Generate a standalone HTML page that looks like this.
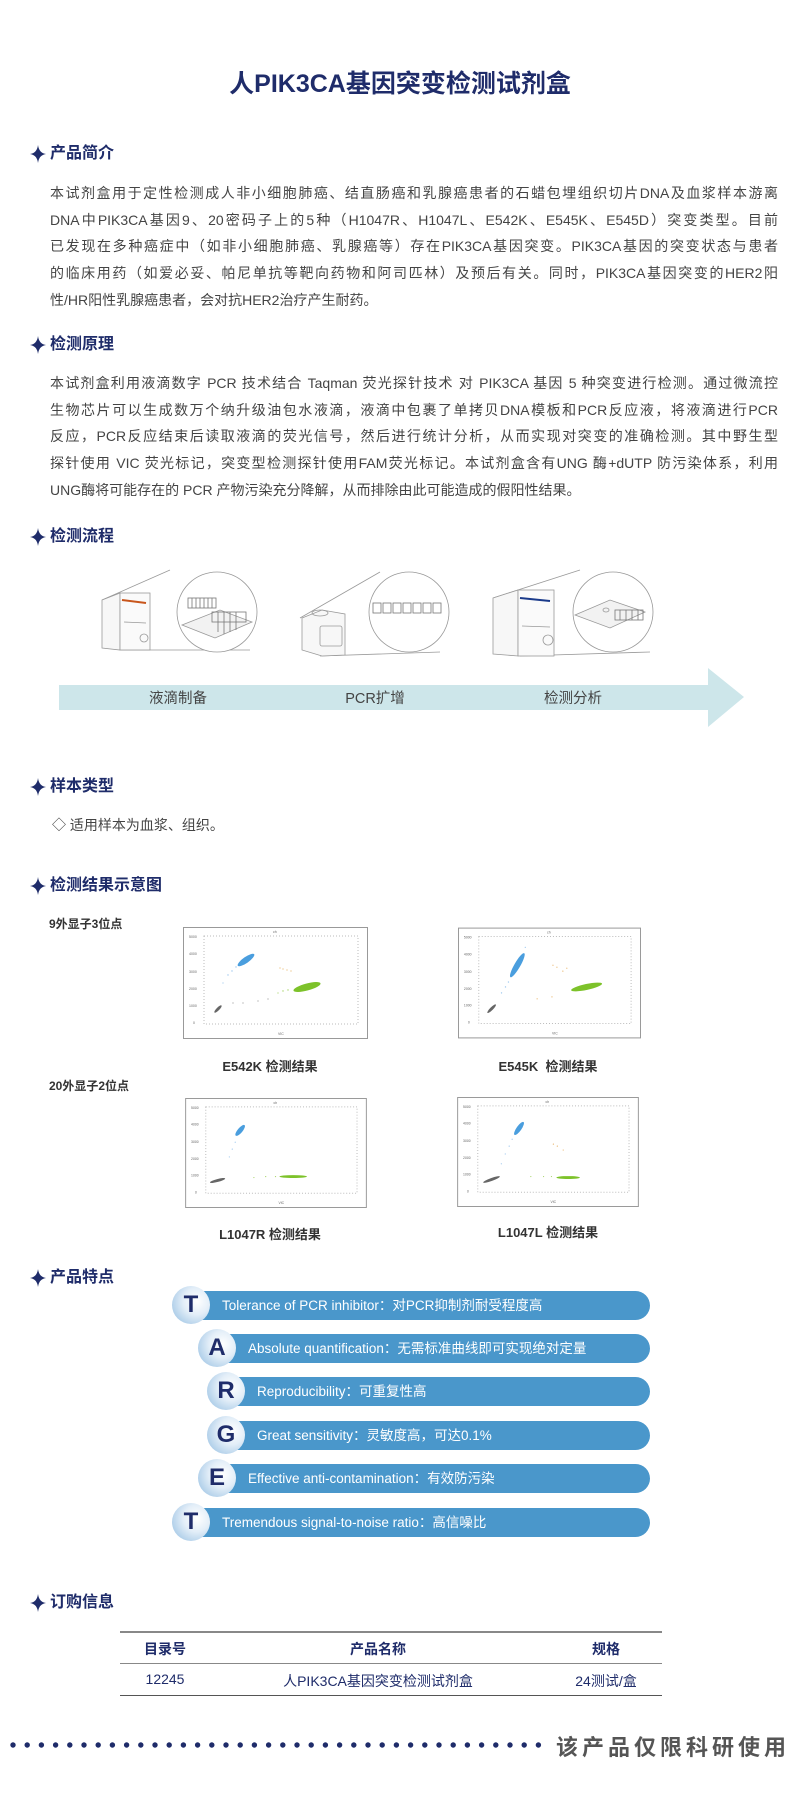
<!DOCTYPE html>
<html><head><meta charset="utf-8"><style>
*{margin:0;padding:0;box-sizing:border-box}
body{width:800px;height:1796px;background:#fff;font-family:"Liberation Sans","Noto Sans CJK SC",sans-serif;position:relative;overflow:hidden;color:#444}
.a{position:absolute}
.title{left:0;width:800px;text-align:center;top:64px;font-size:25px;font-weight:bold;color:#1f2c6a}
.h{left:30px;font-size:16px;font-weight:bold;color:#1f2c6a;height:22px;line-height:22px}
.h svg{position:absolute;left:0;top:2px}
.h span{position:absolute;left:20px;white-space:nowrap}
.p{left:50px;width:728px;font-size:14px;color:#444}
.p div{height:26.7px;line-height:26.7px;text-align:justify;text-align-last:justify;white-space:nowrap}
.p div.l{text-align-last:left}
.sub{font-size:12px;font-weight:bold;color:#333}
.cap{font-size:13px;font-weight:bold;color:#333;text-align:center;width:200px}
.bar{position:absolute;height:29px;background:#4a97cb;border-radius:0 15px 15px 0;right:150px;color:#fff;font-size:13.5px;line-height:29px}
.c{position:absolute;width:38px;height:38px;border-radius:50%;background:radial-gradient(circle at 65% 40%,#ffffff 0%,#e3eef8 40%,#8fbbe0 100%);color:#1f2c6a;font-weight:bold;font-size:24px;text-align:center;line-height:38px}
</style></head><body>
<div class="a title">人PIK3CA基因突变检测试剂盒</div>

<div class="a h" style="top:143px"><svg width="16" height="18" viewBox="0 0 16 18"><path d="M8 0 Q9 8 16 9 Q9 10 8 18 Q7 10 0 9 Q7 8 8 0Z" fill="#1f2c6a"/></svg><span>产品简介</span></div>
<div class="a p" style="top:180px">
<div>本试剂盒用于定性检测成人非小细胞肺癌、结直肠癌和乳腺癌患者的石蜡包埋组织切片DNA及血浆样本游离</div>
<div>DNA中PIK3CA基因9、20密码子上的5种（H1047R、H1047L、E542K、E545K、E545D）突变类型。目前</div>
<div>已发现在多种癌症中（如非小细胞肺癌、乳腺癌等）存在PIK3CA基因突变。PIK3CA基因的突变状态与患者</div>
<div>的临床用药（如爱必妥、帕尼单抗等靶向药物和阿司匹林）及预后有关。同时，PIK3CA基因突变的HER2阳</div>
<div class="l">性/HR阳性乳腺癌患者，会对抗HER2治疗产生耐药。</div>
</div>

<div class="a h" style="top:334px"><svg width="16" height="18" viewBox="0 0 16 18"><path d="M8 0 Q9 8 16 9 Q9 10 8 18 Q7 10 0 9 Q7 8 8 0Z" fill="#1f2c6a"/></svg><span>检测原理</span></div>
<div class="a p" style="top:370px">
<div>本试剂盒利用液滴数字 PCR 技术结合 Taqman 荧光探针技术 对 PIK3CA 基因 5 种突变进行检测。通过微流控</div>
<div>生物芯片可以生成数万个纳升级油包水液滴，液滴中包裹了单拷贝DNA模板和PCR反应液，将液滴进行PCR</div>
<div>反应，PCR反应结束后读取液滴的荧光信号，然后进行统计分析，从而实现对突变的准确检测。其中野生型</div>
<div>探针使用 VIC 荧光标记，突变型检测探针使用FAM荧光标记。本试剂盒含有UNG 酶+dUTP 防污染体系，利用</div>
<div class="l">UNG酶将可能存在的 PCR 产物污染充分降解，从而排除由此可能造成的假阳性结果。</div>
</div>

<div class="a h" style="top:526px"><svg width="16" height="18" viewBox="0 0 16 18"><path d="M8 0 Q9 8 16 9 Q9 10 8 18 Q7 10 0 9 Q7 8 8 0Z" fill="#1f2c6a"/></svg><span>检测流程</span></div>

<svg class="a" style="left:0;top:560px" width="800" height="180" viewBox="0 0 800 180" fill="none" stroke="#999" stroke-width="0.8">
 <path d="M102 40 L170 10 M120 90 L250 90"/>
 <path d="M102 40 L120 33 L120 90 L102 88 Z" fill="#f7f7f7"/>
 <rect x="120" y="33" width="30" height="57" fill="#fafafa"/>
 <line x1="122" y1="40" x2="146" y2="43" stroke="#c8561c" stroke-width="2"/>
 <line x1="124" y1="62" x2="146" y2="63"/>
 <circle cx="144" cy="78" r="4"/>
 <circle cx="217" cy="52" r="40" fill="#fff"/>
 <path d="M182 65 L220 50 L252 62 L215 78 Z" fill="#f2f2f2"/>
 <g stroke="#777"><rect x="188" y="38" width="28" height="10"/><line x1="192" y1="38" x2="192" y2="48"/><line x1="196" y1="38" x2="196" y2="48"/><line x1="200" y1="38" x2="200" y2="48"/><line x1="204" y1="38" x2="204" y2="48"/><line x1="208" y1="38" x2="208" y2="48"/><line x1="212" y1="38" x2="212" y2="48"/>
 <rect x="212" y="52" width="34" height="10"/><line x1="218" y1="52" x2="218" y2="72"/><line x1="224" y1="52" x2="224" y2="74"/><line x1="230" y1="52" x2="230" y2="72"/><line x1="236" y1="52" x2="236" y2="70"/></g>
 <path d="M300 58 L380 12 M320 96 L440 92"/>
 <path d="M302 58 L322 50 L345 54 L345 95 L322 96 L302 90 Z" fill="#f7f7f7"/>
 <rect x="320" y="66" width="22" height="20" rx="2"/>
 <ellipse cx="320" cy="53" rx="8" ry="3"/>
 <circle cx="409" cy="52" r="40" fill="#fff"/>
 <g stroke="#777"><rect x="373" y="43" width="8" height="10"/><rect x="383" y="43" width="8" height="10"/><rect x="393" y="43" width="8" height="10"/><rect x="403" y="43" width="8" height="10"/><rect x="413" y="43" width="8" height="10"/><rect x="423" y="43" width="8" height="10"/><rect x="433" y="43" width="8" height="10"/></g>
 <path d="M493 38 L580 10 M520 96 L650 92"/>
 <path d="M493 38 L518 30 L518 96 L493 94 Z" fill="#f7f7f7"/>
 <rect x="518" y="30" width="36" height="66" fill="#fafafa"/>
 <line x1="520" y1="38" x2="550" y2="41" stroke="#1a3a8a" stroke-width="2"/>
 <line x1="522" y1="66" x2="550" y2="67"/>
 <circle cx="548" cy="80" r="5"/>
 <circle cx="613" cy="52" r="40" fill="#fff"/>
 <path d="M575 55 L610 40 L645 52 L610 68 Z" fill="#f2f2f2"/>
 <ellipse cx="606" cy="50" rx="3" ry="2"/>
 <g stroke="#777"><rect x="615" y="50" width="28" height="10"/><line x1="620" y1="50" x2="620" y2="60"/><line x1="626" y1="50" x2="626" y2="60"/><line x1="632" y1="50" x2="632" y2="60"/><line x1="638" y1="50" x2="638" y2="60"/></g>
 <path d="M59 125 L708 125 L708 108 L744 137 L708 167 L708 150 L59 150 Z" fill="#cde6ea" stroke="none"/>
 <g fill="#444" stroke="none" font-family="Liberation Sans,Noto Sans CJK SC,sans-serif" font-size="14.5" text-anchor="middle"><text x="178" y="143">液滴制备</text><text x="375" y="143">PCR扩增</text><text x="573" y="143">检测分析</text></g>
</svg>

<div class="a h" style="top:776px"><svg width="16" height="18" viewBox="0 0 16 18"><path d="M8 0 Q9 8 16 9 Q9 10 8 18 Q7 10 0 9 Q7 8 8 0Z" fill="#1f2c6a"/></svg><span>样本类型</span></div>
<div class="a" style="left:52px;top:815px;font-size:14px;color:#444">◇ 适用样本为血浆、组织。</div>

<div class="a h" style="top:875px"><svg width="16" height="18" viewBox="0 0 16 18"><path d="M8 0 Q9 8 16 9 Q9 10 8 18 Q7 10 0 9 Q7 8 8 0Z" fill="#1f2c6a"/></svg><span>检测结果示意图</span></div>
<div class="a sub" style="left:49px;top:915px">9外显子3位点</div>
<div class="a sub" style="left:49px;top:1077px">20外显子2位点</div>

<svg class="a" style="left:183px;top:927px" width="185" height="112" viewBox="0 0 185 112">
 <rect x="0.5" y="0.5" width="184" height="111" fill="#fff" stroke="#999"/>
 <rect x="21" y="9" width="154" height="88" fill="none" stroke="#bbb" stroke-dasharray="1 2"/>
 <g font-size="3.5" fill="#666"><text x="6" y="11">5000</text><text x="6" y="28">4000</text><text x="6" y="46">3000</text><text x="6" y="63">2000</text><text x="6" y="80">1000</text><text x="10" y="97">0</text><text x="90" y="6">ch</text><text x="95" y="108">VIC</text></g>
 <g fill="#9cc7ee"><circle cx="45" cy="48" r=".7"/><circle cx="49" cy="44" r=".7"/><circle cx="53" cy="40" r=".7"/><circle cx="40" cy="56" r=".6"/></g>
 <ellipse cx="63" cy="33" rx="10" ry="3" transform="rotate(-35 63 33)" fill="#4a9ede"/>
 <g fill="#a8d46a"><circle cx="100" cy="64" r=".7"/><circle cx="105" cy="63" r=".7"/><circle cx="95" cy="66" r=".6"/></g>
 <ellipse cx="124" cy="60" rx="14" ry="3.5" transform="rotate(-15 124 60)" fill="#7dc22a"/>
 <ellipse cx="35" cy="82" rx="5" ry="1.5" transform="rotate(-45 35 82)" fill="#666"/>
 <g fill="#999"><circle cx="50" cy="76" r=".6"/><circle cx="60" cy="76" r=".6"/><circle cx="75" cy="74" r=".6"/><circle cx="85" cy="72" r=".6"/></g>
 <g fill="#e8b46a"><circle cx="100" cy="42" r=".6"/><circle cx="104" cy="43" r=".6"/><circle cx="97" cy="41" r=".6"/><circle cx="108" cy="44" r=".6"/></g>
</svg>
<svg class="a" style="left:458px;top:927px" width="183" height="112" viewBox="0 0 185 112">
 <rect x="0.5" y="0.5" width="184" height="111" fill="#fff" stroke="#999"/>
 <rect x="21" y="9" width="154" height="88" fill="none" stroke="#bbb" stroke-dasharray="1 2"/>
 <g font-size="3.5" fill="#666"><text x="6" y="11">5000</text><text x="6" y="28">4000</text><text x="6" y="46">3000</text><text x="6" y="63">2000</text><text x="6" y="80">1000</text><text x="10" y="97">0</text><text x="90" y="6">ch</text><text x="95" y="108">VIC</text></g>
 <g fill="#9cc7ee"><circle cx="44" cy="66" r=".7"/><circle cx="48" cy="60" r=".7"/><circle cx="51" cy="55" r=".7"/><circle cx="68" cy="20" r=".6"/></g>
 <ellipse cx="60" cy="38" rx="14" ry="3" transform="rotate(-60 60 38)" fill="#4a9ede"/>
 <ellipse cx="130" cy="60" rx="16" ry="3" transform="rotate(-12 130 60)" fill="#7dc22a"/>
 <ellipse cx="34" cy="82" rx="6" ry="1.5" transform="rotate(-45 34 82)" fill="#666"/>
 <g fill="#e8b46a"><circle cx="100" cy="40" r=".6"/><circle cx="106" cy="44" r=".6"/><circle cx="96" cy="38" r=".6"/><circle cx="110" cy="41" r=".6"/><circle cx="80" cy="72" r=".6"/><circle cx="95" cy="70" r=".6"/></g>
</svg>
<svg class="a" style="left:184px;top:1098px" width="184" height="110" viewBox="0 0 185 112">
 <rect x="0.5" y="0.5" width="184" height="111" fill="#fff" stroke="#999"/>
 <rect x="21" y="9" width="154" height="88" fill="none" stroke="#bbb" stroke-dasharray="1 2"/>
 <g font-size="3.5" fill="#666"><text x="6" y="11">5000</text><text x="6" y="28">4000</text><text x="6" y="46">3000</text><text x="6" y="63">2000</text><text x="6" y="80">1000</text><text x="10" y="97">0</text><text x="90" y="6">ch</text><text x="95" y="108">VIC</text></g>
 <g fill="#9cc7ee"><circle cx="45" cy="60" r=".6"/><circle cx="48" cy="52" r=".6"/><circle cx="51" cy="45" r=".6"/></g>
 <ellipse cx="56" cy="33" rx="7" ry="2.5" transform="rotate(-50 56 33)" fill="#4a9ede"/>
 <g fill="#a8d46a"><circle cx="70" cy="81" r=".6"/><circle cx="82" cy="80" r=".6"/><circle cx="92" cy="80" r=".6"/></g>
 <ellipse cx="110" cy="80" rx="14" ry="1.5" fill="#7dc22a"/>
 <ellipse cx="33" cy="84" rx="8" ry="1.5" transform="rotate(-15 33 84)" fill="#666"/>
</svg>
<svg class="a" style="left:457px;top:1097px" width="182" height="110" viewBox="0 0 185 112">
 <rect x="0.5" y="0.5" width="184" height="111" fill="#fff" stroke="#999"/>
 <rect x="21" y="9" width="154" height="88" fill="none" stroke="#bbb" stroke-dasharray="1 2"/>
 <g font-size="3.5" fill="#666"><text x="6" y="11">5000</text><text x="6" y="28">4000</text><text x="6" y="46">3000</text><text x="6" y="63">2000</text><text x="6" y="80">1000</text><text x="10" y="97">0</text><text x="90" y="6">ch</text><text x="95" y="108">VIC</text></g>
 <g fill="#9cc7ee"><circle cx="45" cy="68" r=".6"/><circle cx="49" cy="58" r=".6"/><circle cx="53" cy="50" r=".6"/><circle cx="56" cy="43" r=".6"/></g>
 <ellipse cx="63" cy="32" rx="8" ry="2.5" transform="rotate(-55 63 32)" fill="#4a9ede"/>
 <g fill="#a8d46a"><circle cx="75" cy="81" r=".6"/><circle cx="88" cy="81" r=".6"/><circle cx="96" cy="81" r=".6"/></g>
 <ellipse cx="113" cy="82" rx="12" ry="1.5" fill="#7dc22a"/>
 <ellipse cx="35" cy="84" rx="9" ry="1.5" transform="rotate(-20 35 84)" fill="#666"/>
 <g fill="#e8b46a"><circle cx="102" cy="50" r=".6"/><circle cx="108" cy="54" r=".6"/><circle cx="98" cy="48" r=".6"/></g>
</svg>
<div class="a cap" style="left:170px;top:1056px">E542K 检测结果</div>
<div class="a cap" style="left:448px;top:1056px">E545K&nbsp; 检测结果</div>
<div class="a cap" style="left:170px;top:1224px">L1047R 检测结果</div>
<div class="a cap" style="left:448px;top:1222px">L1047L 检测结果</div>

<div class="a h" style="top:1267px"><svg width="16" height="18" viewBox="0 0 16 18"><path d="M8 0 Q9 8 16 9 Q9 10 8 18 Q7 10 0 9 Q7 8 8 0Z" fill="#1f2c6a"/></svg><span>产品特点</span></div>

<div class="bar" style="left:190px;top:1291px;padding-left:32px">Tolerance of PCR inhibitor：对PCR抑制剂耐受程度高</div>
<div class="c" style="left:172px;top:1286px">T</div>
<div class="bar" style="left:216px;top:1334px;padding-left:32px">Absolute quantification：无需标准曲线即可实现绝对定量</div>
<div class="c" style="left:198px;top:1329px">A</div>
<div class="bar" style="left:225px;top:1377px;padding-left:32px">Reproducibility：可重复性高</div>
<div class="c" style="left:207px;top:1372px">R</div>
<div class="bar" style="left:225px;top:1421px;padding-left:32px">Great sensitivity：灵敏度高，可达0.1%</div>
<div class="c" style="left:207px;top:1416px">G</div>
<div class="bar" style="left:216px;top:1464px;padding-left:32px">Effective anti-contamination：有效防污染</div>
<div class="c" style="left:198px;top:1459px">E</div>
<div class="bar" style="left:190px;top:1508px;padding-left:32px">Tremendous signal-to-noise ratio：高信噪比</div>
<div class="c" style="left:172px;top:1503px">T</div>

<div class="a h" style="top:1592px"><svg width="16" height="18" viewBox="0 0 16 18"><path d="M8 0 Q9 8 16 9 Q9 10 8 18 Q7 10 0 9 Q7 8 8 0Z" fill="#1f2c6a"/></svg><span>订购信息</span></div>
<div class="a" style="left:120px;top:1631px;width:542px;border-top:2px solid #888"></div>
<div class="a" style="left:120px;top:1663px;width:542px;border-top:1.5px solid #888"></div>
<div class="a" style="left:120px;top:1695px;width:542px;border-top:1.5px solid #555"></div>
<div class="a" style="left:125px;top:1639px;width:80px;text-align:center;font-size:14px;font-weight:bold;color:#1f2c6a">目录号</div>
<div class="a" style="left:318px;top:1639px;width:120px;text-align:center;font-size:14px;font-weight:bold;color:#1f2c6a">产品名称</div>
<div class="a" style="left:566px;top:1639px;width:80px;text-align:center;font-size:14px;font-weight:bold;color:#1f2c6a">规格</div>
<div class="a" style="left:125px;top:1671px;width:80px;text-align:center;font-size:14px;color:#1f2c6a">12245</div>
<div class="a" style="left:258px;top:1671px;width:240px;text-align:center;font-size:14px;color:#1f2c6a">人PIK3CA基因突变检测试剂盒</div>
<div class="a" style="left:556px;top:1671px;width:100px;text-align:center;font-size:14px;color:#1f2c6a">24测试/盒</div>

<svg class="a" style="left:0;top:1738px" width="550" height="14"><g fill="#1f2c6a">
<circle cx="13" cy="7" r="2.7"/><circle cx="27.2" cy="7" r="2.7"/><circle cx="41.4" cy="7" r="2.7"/><circle cx="55.6" cy="7" r="2.7"/><circle cx="69.8" cy="7" r="2.7"/><circle cx="84" cy="7" r="2.7"/><circle cx="98.2" cy="7" r="2.7"/><circle cx="112.4" cy="7" r="2.7"/><circle cx="126.6" cy="7" r="2.7"/><circle cx="140.8" cy="7" r="2.7"/><circle cx="155" cy="7" r="2.7"/><circle cx="169.2" cy="7" r="2.7"/><circle cx="183.4" cy="7" r="2.7"/><circle cx="197.6" cy="7" r="2.7"/><circle cx="211.8" cy="7" r="2.7"/><circle cx="226" cy="7" r="2.7"/><circle cx="240.2" cy="7" r="2.7"/><circle cx="254.4" cy="7" r="2.7"/><circle cx="268.6" cy="7" r="2.7"/><circle cx="282.8" cy="7" r="2.7"/><circle cx="297" cy="7" r="2.7"/><circle cx="311.2" cy="7" r="2.7"/><circle cx="325.4" cy="7" r="2.7"/><circle cx="339.6" cy="7" r="2.7"/><circle cx="353.8" cy="7" r="2.7"/><circle cx="368" cy="7" r="2.7"/><circle cx="382.2" cy="7" r="2.7"/><circle cx="396.4" cy="7" r="2.7"/><circle cx="410.6" cy="7" r="2.7"/><circle cx="424.8" cy="7" r="2.7"/><circle cx="439" cy="7" r="2.7"/><circle cx="453.2" cy="7" r="2.7"/><circle cx="467.4" cy="7" r="2.7"/><circle cx="481.6" cy="7" r="2.7"/><circle cx="495.8" cy="7" r="2.7"/><circle cx="510" cy="7" r="2.7"/><circle cx="524.2" cy="7" r="2.7"/><circle cx="538.4" cy="7" r="2.7"/>
</g></svg>
<div class="a" style="left:556px;top:1730px;font-size:22px;font-weight:bold;color:#555;letter-spacing:4px;white-space:nowrap">该产品仅限科研使用</div>
</body></html>
